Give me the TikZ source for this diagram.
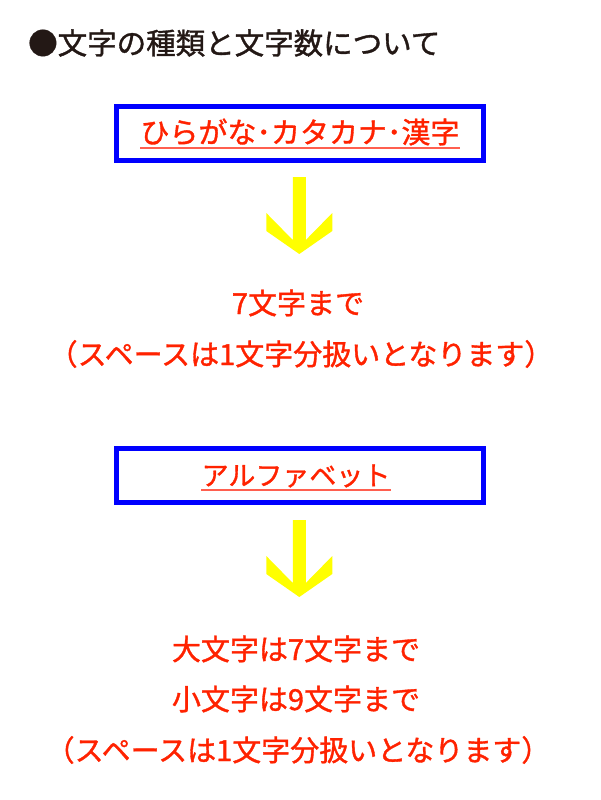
\documentclass[tikz,border=0pt]{standalone}
\usepackage{fontspec}
\setmainfont{Noto Sans CJK JP}[FakeBold=1]
\newfontfamily\jpfont{Noto Sans CJK JP}[FakeBold=1.2]
\definecolor{titlebrown}{HTML}{231815}
\definecolor{redtext}{HTML}{FF2200}
\definecolor{redline}{HTML}{FF5F4F}
\definecolor{boxblue}{HTML}{0000FF}
\definecolor{arrowyellow}{HTML}{FFFF00}
\tikzset{
    bluebox/.style={draw=boxblue, line width=5pt, minimum width=367pt, minimum height=54pt},
    redlabel/.style={text=redtext},
    underline/.style={draw=redline, line width=2pt},
    yellowarrow/.pic={
        \fill[arrowyellow] (-6.5,0) -- (6.5,0) -- (6.5,63) -- (33,36) -- (33,54) -- (0,77)
            -- (-33,54) -- (-33,36) -- (-6.5,63) -- cycle;
    }
}
\begin{document}
\begin{tikzpicture}[x=1pt, y=-1pt, every node/.style={inner sep=0pt, font=\jpfont\fontsize{29}{34}\selectfont}]

            \useasboundingbox (0,0) rectangle (600,800);

            \node (title) at (28,43) [anchor=west, text=titlebrown, font=\jpfont\fontsize{29.5}{34}\selectfont] {●文字の種類と文字数について};

            \node (kanabox) at (300,133.5) [bluebox] {};
            \node (kana) at (300,132) [redlabel] {ひらがな･カタカナ･漢字};
            \draw[underline] ([yshift=-5pt]kana.base west) -- ([yshift=-5pt]kana.base east);

            \pic at (299.3,177) {yellowarrow};

            \node (limit1) at (298,303) [redlabel] {7文字まで};
            \node (space1) at (301,354) [redlabel] {（スペースは1文字分扱いとなります）};

            \node (alphabox) at (300,475.5) [bluebox] {};
            \node (alpha) at (296,476) [redlabel, font=\jpfont\fontsize{27}{34}\selectfont] {アルファベット};
            \draw[underline] ([yshift=-5pt]alpha.base west) -- ([yshift=-5pt]alpha.base east);

            \pic at (299.3,520) {yellowarrow};

            \node (upper) at (296,649) [redlabel] {大文字は7文字まで};
            \node (lower) at (296,699) [redlabel] {小文字は9文字まで};
            \node (space2) at (298,750) [redlabel] {（スペースは1文字分扱いとなります）};
        \end{tikzpicture}
\end{document}
